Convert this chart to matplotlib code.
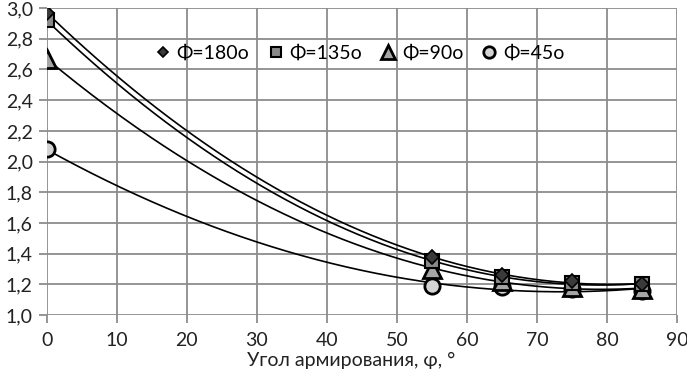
import numpy as np
import matplotlib
matplotlib.use("Agg")
import matplotlib.pyplot as plt

plt.rcParams['font.family'] = ['Lato', 'DejaVu Sans']

# угол армирования
x = [0, 55, 65, 75, 85]

phi_180 = [2.97, 1.38, 1.26, 1.22, 1.20]
phi_135 = [2.92, 1.35, 1.25, 1.21, 1.20]
phi_90 = [2.67, 1.30, 1.22, 1.18, 1.17]
phi_45 = [2.08, 1.19, 1.18, 1.17, 1.16]

labels = ["Φ=180o", "Φ=135o", "Φ=90o", "Φ=45o"]

fig = plt.figure(figsize=(6.87, 3.76), dpi=100)
ax = fig.add_axes([0.068, 0.162, 0.9175, 0.8165])

styles = [
    dict(marker="D", ms=7, mfc="#3a3a3a", mec="black", mew=1.2),
    dict(marker="s", ms=10, mfc="#8a8a8a", mec="black", mew=1.5),
    dict(marker="^", ms=13, mfc="#a6a6a6", mec="black", mew=2),
    dict(marker="o", ms=11, mfc="#d4d4d4", mec="black", mew=2),
]

xs = np.linspace(0, 85, 200)
series = [phi_180, phi_135, phi_90, phi_45]
for ys, lab, st in zip(series, labels, styles):
    # полиномиальная линия тренда 2-го порядка
    coef = np.polyfit(x, ys, 2)
    ax.plot(xs, np.polyval(coef, xs), color="black", lw=1.2, zorder=2)
for ys, lab, st in zip(reversed(series), reversed(labels), reversed(styles)):
    ax.plot(x, ys, ls="none", label=lab, zorder=3, **st)

ax.set_xlim(0, 90)
ax.set_ylim(1.0, 3.0)
ax.set_xticks(range(0, 91, 10))
yt = np.arange(1.0, 3.01, 0.2)
ax.set_yticks(yt)
ax.set_yticklabels([f"{v:.1f}".replace(".", ",") for v in yt])
ax.grid(True, color="#8c8c8c", lw=1.3)
ax.set_axisbelow(True)
for s in ax.spines.values():
    s.set_visible(False)
ax.tick_params(axis="both", colors="#8c8c8c", labelcolor="#222222", labelsize=14,
               length=6, width=1.3)
ax.tick_params(axis="x", pad=6)
ax.tick_params(axis="y", pad=4)
ax.set_xlabel("Угол армирования, φ, °", fontsize=14, color="#222222")
ax.xaxis.set_label_coords(0.483, -0.148)
ax.xaxis.label.set_va("center")

handles, labs = ax.get_legend_handles_labels()
leg = ax.legend(handles[::-1], labs[::-1], ncol=4, loc="center left",
                bbox_to_anchor=(0.169, 0.853), frameon=False, fontsize=14,
                handletextpad=0.2, columnspacing=0.85, handlelength=1.0,
                markerscale=0.75, borderaxespad=0, borderpad=0)

fig.savefig("out.png", dpi=100)
